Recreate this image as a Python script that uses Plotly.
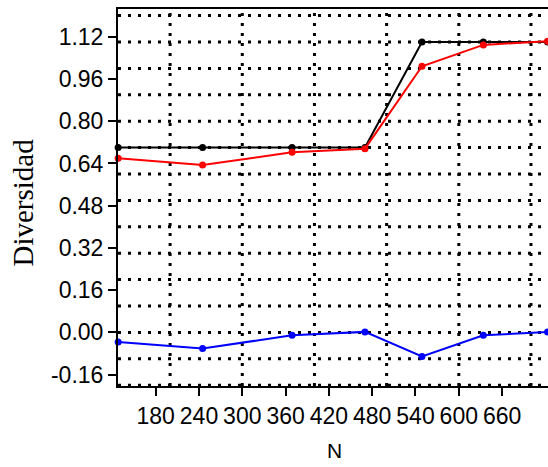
import plotly.graph_objects as go

# Data
N = [128, 245, 369, 470, 549, 634, 723]
black_vals = [0.70, 0.70, 0.70, 0.70, 1.10, 1.10, 1.10]
red_vals = [0.66, 0.634, 0.682, 0.696, 1.008, 1.089, 1.103]
blue_vals = [-0.036, -0.061, -0.011, 0.002, -0.091, -0.011, 0.002]

x_tickvals = [180, 240, 300, 360, 420, 480, 540, 600, 660]
y_tickvals = [-0.16, 0.0, 0.16, 0.32, 0.48, 0.64, 0.80, 0.96, 1.12]
y_ticktext = ["-0.16", "0.00", "0.16", "0.32", "0.48", "0.64", "0.80", "0.96", "1.12"]

x_grid = [200, 300, 400, 500, 600, 700]
y_grid = [-0.2, -0.1, 0.0, 0.1, 0.2, 0.3, 0.4, 0.5, 0.6, 0.7, 0.8, 0.9, 1.0, 1.1, 1.2]

fig = go.Figure()

for vals, col in [(black_vals, "#000000"), (red_vals, "#ff0000"), (blue_vals, "#0000ff")]:
    fig.add_trace(go.Scatter(
        x=N, y=vals, mode="lines+markers",
        line=dict(color=col, width=2),
        marker=dict(color=col, size=7),
        cliponaxis=False, showlegend=False,
    ))

grid_line = dict(color="black", width=3, dash="3px,7px")
for v in x_grid:
    fig.add_shape(type="line", xref="x", yref="paper", x0=v, x1=v, y0=0, y1=1,
                  line=grid_line, layer="below")
for v in y_grid:
    fig.add_shape(type="line", xref="paper", yref="y", x0=0, x1=1, y0=v, y1=v,
                  line=grid_line, layer="below")

tick_font = dict(family="Liberation Sans, Arial, sans-serif", size=23, color="black")

fig.update_layout(
    width=548, height=467,
    margin=dict(l=118, r=0, t=9, b=81),
    paper_bgcolor="white", plot_bgcolor="white",
    xaxis=dict(
        range=[127.8, 723.6], showgrid=False, zeroline=False,
        showline=True, linecolor="black", linewidth=2, mirror=True,
        ticks="outside", ticklen=8, tickwidth=2, tickcolor="black",
        tickmode="array", tickvals=x_tickvals,
        tickfont=tick_font,
    ),
    yaxis=dict(
        range=[-0.203, 1.225], showgrid=False, zeroline=False,
        showline=True, linecolor="black", linewidth=2,
        ticks="outside", ticklen=8, tickwidth=2, tickcolor="black",
        tickmode="array", tickvals=y_tickvals, ticktext=y_ticktext,
        tickfont=tick_font,
    ),
    annotations=[
        dict(text="Diversidad", xref="paper", yref="paper",
             x=(22 - 118) / 430, y=(386 - 202.5) / 377,
             xanchor="center", yanchor="middle", textangle=-90, showarrow=False,
             font=dict(family="Liberation Serif, Times New Roman, serif", size=29, color="black")),
        dict(text="N", xref="paper", yref="paper",
             x=(334 - 118) / 430, y=(386 - 450) / 377,
             xanchor="center", yanchor="middle", showarrow=False,
             font=dict(family="Liberation Sans, Arial, sans-serif", size=21, color="black")),
    ],
)

fig.write_html("out.html")
